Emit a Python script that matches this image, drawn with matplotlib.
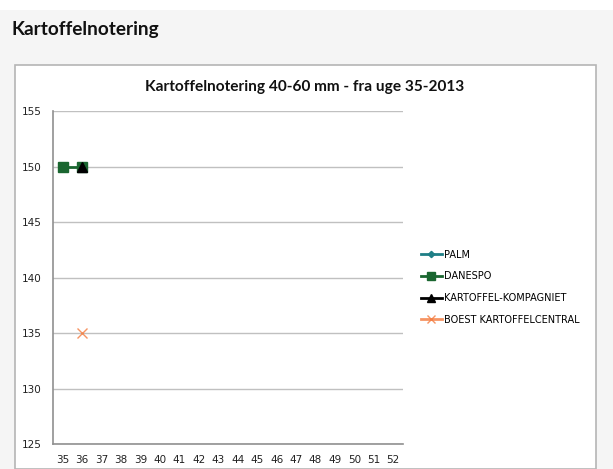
import numpy as np
import matplotlib.pyplot as plt
from matplotlib.patches import Rectangle

weeks = list(range(35, 53))
nan = np.nan
palm = [nan] * 18
danespo = [150, 150] + [nan] * 16
kompagniet = [nan, 150] + [nan] * 16
boest = [nan, 135] + [nan] * 16

W, H = 613, 469
fig = plt.figure(figsize=(W / 100, H / 100), dpi=100)
fig.patch.set_facecolor("white")

# page background and chart box
fig.patches.append(Rectangle((0, 0), 1, 1 - 10 / H, transform=fig.transFigure,
                             facecolor="#f5f5f5", edgecolor="none", zorder=-10))
fig.patches.append(Rectangle((15 / W, 0), (596 - 15) / W, 1 - 65 / H,
                             transform=fig.transFigure, facecolor="white",
                             edgecolor="#b5b5b5", linewidth=1.2, zorder=-5))

fig.text(12 / W, 1 - 29 / H, "Kartoffelnotering", fontsize=13.7, fontweight="bold",
         family="Lato", ha="left", va="center", color="#111111")
fig.text(305 / W, 1 - 87 / H, "Kartoffelnotering 40-60 mm - fra uge 35-2013",
         fontsize=11.1, fontweight="bold", family="Lato", ha="center", va="center",
         color="#111111")

ax = fig.add_axes([53 / W, 1 - 444 / H, (403 - 53) / W, (444 - 111) / H])
ax.set_facecolor("white")
x = np.arange(len(weeks))

ax.plot(x, palm, color="#1f7f86", marker="D", markersize=4, lw=2, label="PALM")
ax.plot(x, danespo, color="#1a6630", marker="s", markersize=7, lw=2, label="DANESPO")
ax.plot(x, kompagniet, color="black", marker="^", markersize=7, lw=2,
        label="KARTOFFEL-KOMPAGNIET")
ax.plot(x, boest, color="#f47a3c", marker="x", markersize=7, lw=2, mew=1,
        alpha=0.8, label="BOEST KARTOFFELCENTRAL")

ax.set_xlim(-0.5, len(weeks) - 0.5)
ax.set_ylim(125, 155)
ax.set_yticks(np.arange(125, 156, 5))
ax.set_xticks(x)
ax.set_xticklabels([str(w) for w in weeks])
ax.yaxis.grid(True, color="#c0c0c0", lw=1)
ax.set_axisbelow(True)
for s in ["top", "right"]:
    ax.spines[s].set_visible(False)
for s in ["left", "bottom"]:
    ax.spines[s].set_color("#909090")
    ax.spines[s].set_linewidth(1.2)
ax.tick_params(axis="both", length=0, labelsize=7.5, colors="#222222")
ax.tick_params(axis="y", pad=8)
ax.tick_params(axis="x", pad=8)

leg = fig.legend(loc="upper left", bbox_to_anchor=(412 / W, 1 - 241 / H),
                 frameon=False, fontsize=7, handlelength=2.2, handletextpad=0.2,
                 labelspacing=1.2, markerscale=0.8)

fig.savefig("out.png", dpi=100)
